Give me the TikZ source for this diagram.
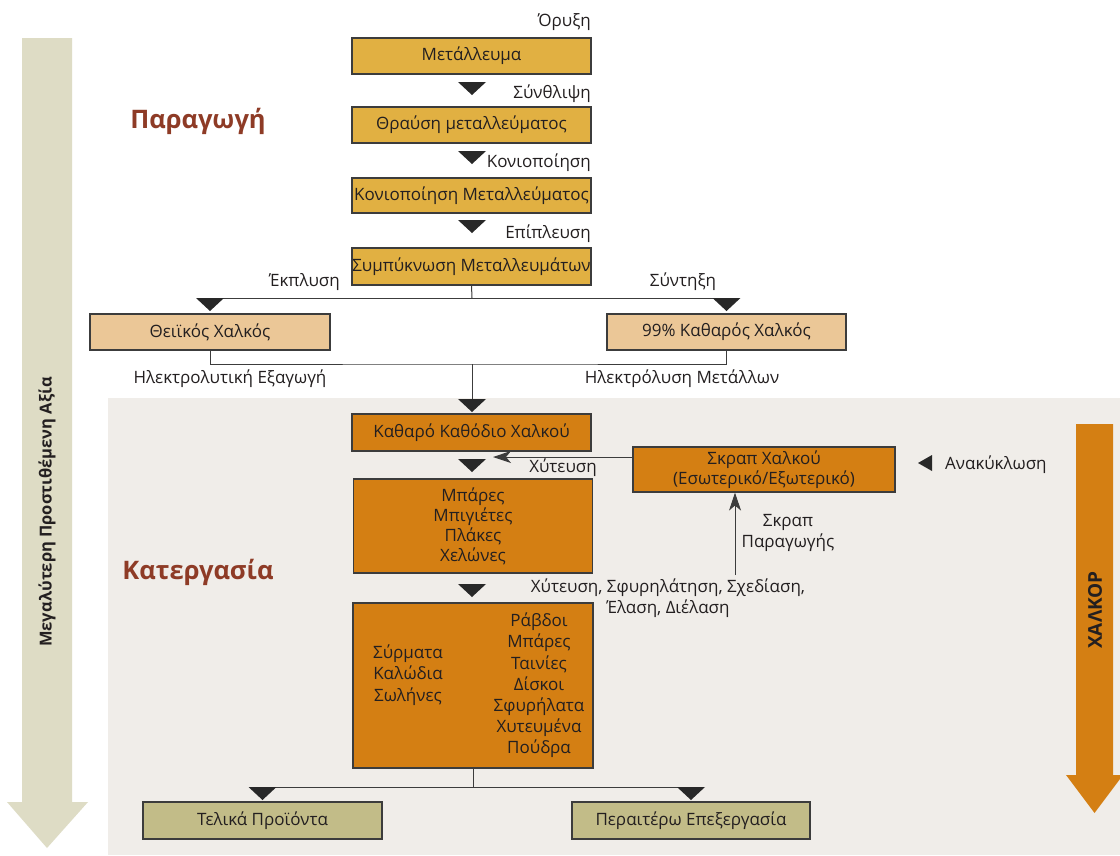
\documentclass[tikz,border=0pt]{standalone}
\usepackage{fontspec}
\setmainfont{Open Sans}
\usetikzlibrary{arrows.meta,calc}
\definecolor{gold}{RGB}{225,176,66}
\definecolor{tan}{RGB}{235,199,151}
\definecolor{orng}{RGB}{212,127,19}
\definecolor{olive}{RGB}{194,188,136}
\definecolor{bgcol}{RGB}{240,237,233}
\definecolor{beigearrow}{RGB}{222,220,197}
\definecolor{titlecol}{RGB}{142,59,38}
\definecolor{txt}{RGB}{35,31,32}
\definecolor{bordercol}{RGB}{60,60,60}
\definecolor{tricol}{RGB}{40,40,40}
\begin{document}
\begin{tikzpicture}[x=1pt,y=-1pt,
  box/.style={draw=bordercol,line width=1.1pt,inner sep=0pt,minimum width=239pt,
    minimum height=36pt,text=txt,align=center,font=\fontsize{17}{20}\selectfont},
  plain/.style={inner sep=0pt,text=txt,align=center,font=\fontsize{17}{21.2}\selectfont},
  title/.style={inner sep=0pt,text=titlecol,font=\fontsize{25.5}{30}\selectfont\bfseries},
  conn/.style={draw=bordercol,line width=1pt},
  dtri/.pic={\fill[tricol] (-14,0) -- (14,0) -- (0,13) -- cycle;},
  ltri/.pic={\fill[tricol] (0,-8) -- (0,8) -- (-14,0) -- cycle;},
  tip/.style={-{Stealth[length=18pt,width=12pt,inset=5pt]}}
]
\useasboundingbox (0,0) rectangle (1120,855);
\fill[white] (0,0) rectangle (1120,855);
% background of processing area
\fill[bgcol] (108,398) rectangle (1120,855);
% left big arrow
\fill[beigearrow] (22,38) -- (72,38) -- (72,802) -- (88,802) -- (47,848) -- (7,802) -- (22,802) -- cycle;
\node[rotate=90,inner sep=0pt,text=txt,font=\fontsize{16.5}{19}\selectfont\bfseries] (valabel) at (47,512) {Μεγαλύτερη Προστιθέμενη Αξία};
% right orange arrow
\fill[orng] (1076,424) -- (1113,424) -- (1113,775) -- (1123,775) -- (1094.5,813) -- (1066,775) -- (1076,775) -- cycle;
\node[rotate=90,inner sep=0pt,text=txt,font=\fontsize{19}{22}\selectfont\bfseries] (halkor) at (1095,610) {ΧΑΛΚΟΡ};

% titles
\node[title] (prod) at (198,121) {Παραγωγή};
\node[title] (proc) at (198,572) {Κατεργασία};

% production boxes
\node[box,fill=gold] (m1) at (471.5,56) {Μετάλλευμα};
\node[box,fill=gold] (m2) at (471.5,125) {Θραύση μεταλλεύματος};
\node[box,fill=gold,minimum height=35pt] (m3) at (471.5,195.5) {Κονιοποίηση Μεταλλεύματος};
\node[box,fill=gold,minimum height=37pt] (m4) at (471.5,266.5) {Συμπύκνωση Μεταλλευμάτων};
\node[plain,anchor=east] (l1) at (591,22) {Όρυξη};
\node[plain,anchor=east] (l2) at (591,94) {Σύνθλιψη};
\node[plain,anchor=east] (l3) at (591,163) {Κονιοποίηση};
\node[plain,anchor=east] (l4) at (591,234) {Επίπλευση};
\pic at (472,82) {dtri};
\pic at (472,151) {dtri};
\pic at (472,220) {dtri};

% split
\node[box,fill=tan,minimum width=240pt] (t1) at (210,332) {Θειϊκός Χαλκός};
\node[box,fill=tan] (t2) at (726.5,332) {99\% Καθαρός Χαλκός};
\coordinate (s1) at (472,298);
\draw[conn] (m4.south) -- (s1);
\draw[conn] (t1.north |- s1) -- (t2.north |- s1);
\pic at (t1.north |- s1) {dtri};
\pic at (t2.north |- s1) {dtri};
\node[plain,anchor=east] (l5) at (340,282) {Έκπλυση};
\node[plain] (l6) at (683,282) {Σύντηξη};

\coordinate (s2) at (472,364);
\coordinate (s2b) at (472,399);
\draw[conn] (t1.south) |- (s2) -| (t2.south);
\draw[conn] (s2) -- (s2b);
\pic at (s2b) {dtri};
\node[plain] (l7) at (230,379) {Ηλεκτρολυτική Εξαγωγή};
\node[plain] (l8) at (682,379) {Ηλεκτρόλυση Μετάλλων};

% processing boxes
\node[box,fill=orng,minimum height=37pt] (c1) at (471.5,432.5) {Καθαρό Καθόδιο Χαλκού};
\pic at (472,459) {dtri};
\node[box,fill=orng,minimum height=94pt] (c2) at (473,526) {Μπάρες\\Μπιγιέτες\\Πλάκες\\Χελώνες};
\pic at (472,584) {dtri};
\node[box,fill=orng,minimum height=165pt,minimum width=240pt] (c3) at (473,685.5) {};
\node[plain] (c3l) at (408,675) {Σύρματα\\Καλώδια\\Σωλήνες};
\node[plain] (c3r) at (539,685.5) {Ράβδοι\\Μπάρες\\Ταινίες\\Δίσκοι\\Σφυρήλατα\\Χυτευμένα\\Πούδρα};

% scrap
\node[box,fill=orng,minimum width=262pt,minimum height=45pt] (sc) at (764,469.5) {Σκραπ Χαλκού\\(Εσωτερικό/Εξωτερικό)};
\coordinate (hx) at (493,457);
\draw[conn,tip] (sc.west |- hx) -- (hx);
\node[plain] (l9) at (563,468) {Χύτευση};
\pic at (932,463) {ltri};
\node[plain,anchor=west] (l10) at (945,465) {Ανακύκλωση};
\coordinate (pa) at (735,575);
\draw[conn,tip] (pa) -- (pa |- sc.south);
\node[plain] (l11) at (788,533) {Σκραπ\\Παραγωγής};
\node[plain] (l12) at (668,598) {Χύτευση, Σφυρηλάτηση, Σχεδίαση,\\Έλαση, Διέλαση};

% final products
\node[box,fill=olive,minimum height=37pt] (f1) at (262.5,820.5) {Τελικά Προϊόντα};
\node[box,fill=olive,minimum width=238pt,minimum height=37pt] (f2) at (691,820.5) {Περαιτέρω Επεξεργασία};
\coordinate (s3) at (473,787);
\draw[conn] (c3.south) -- (s3);
\draw[conn] (f1.north |- s3) -- (f2.north |- s3);
\pic at (f1.north |- s3) {dtri};
\pic at (f2.north |- s3) {dtri};
\end{tikzpicture}
\end{document}
